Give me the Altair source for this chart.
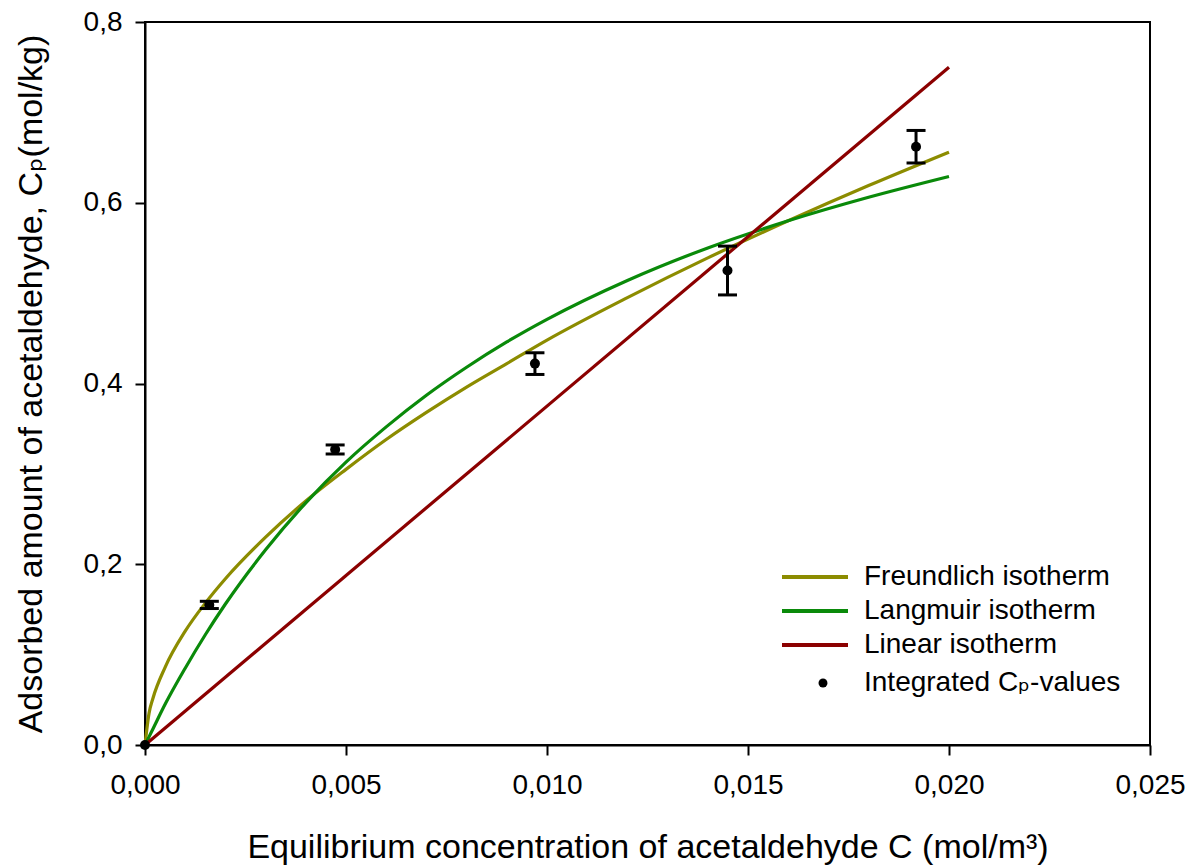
import altair as alt
import pandas as pd

FONT = "Liberation Sans, Arial, DejaVu Sans, sans-serif"

# Fitted isotherm curves: C in mol/m³, Cp in mol/kg
curve_c = [0.0, 0.0001, 0.0002, 0.0005, 0.001, 0.0015, 0.002, 0.003, 0.004, 0.005,
           0.006, 0.007, 0.008, 0.009, 0.010, 0.012, 0.014, 0.016, 0.018, 0.020]
freundlich_cp = [0.0, 0.035, 0.052, 0.086, 0.126, 0.157, 0.184, 0.230, 0.270, 0.305,
                 0.338, 0.368, 0.396, 0.422, 0.448, 0.495, 0.539, 0.580, 0.619, 0.656]
langmuir_cp = [0.0, 0.009, 0.018, 0.045, 0.085, 0.122, 0.156, 0.216, 0.268, 0.313,
               0.352, 0.387, 0.418, 0.446, 0.471, 0.514, 0.550, 0.580, 0.606, 0.629]
linear_c = [0.0, 0.020]
linear_cp = [0.0, 0.750]

# Integrated Cp values with their error
meas_c = [0.0, 0.00160, 0.00473, 0.00970, 0.01449, 0.01918]
meas_cp = [0.0, 0.155, 0.327, 0.422, 0.525, 0.662]
meas_err = [0.0, 0.004, 0.005, 0.012, 0.027, 0.018]

models = ["Freundlich isotherm", "Langmuir isotherm", "Linear isotherm"]
model_colors = ["#8c8c00", "#0a8a0a", "#8b0000"]
points_label = "Integrated Cₚ-values"

curves = pd.concat([
    pd.DataFrame({"c": curve_c, "cp": freundlich_cp, "model": models[0]}),
    pd.DataFrame({"c": curve_c, "cp": langmuir_cp, "model": models[1]}),
    pd.DataFrame({"c": linear_c, "cp": linear_cp, "model": models[2]}),
], ignore_index=True)

meas = pd.DataFrame({"c": meas_c, "cp": meas_cp, "err": meas_err, "series": points_label})

x_enc = alt.X(
    "c:Q",
    scale=alt.Scale(domain=[0, 0.025], nice=False),
    axis=alt.Axis(
        values=[0, 0.005, 0.01, 0.015, 0.02, 0.025],
        labelExpr="replace(format(datum.value, '.3f'), '.', ',')",
        labelFlush=False,
        labelPadding=16,
        titleY=112,
        titleBaseline="alphabetic",
    ),
    title="Equilibrium concentration of acetaldehyde C (mol/m³)",
)
y_enc = alt.Y(
    "cp:Q",
    scale=alt.Scale(domain=[0, 0.8], nice=False),
    axis=alt.Axis(
        values=[0, 0.2, 0.4, 0.6, 0.8],
        labelExpr="replace(format(datum.value, '.1f'), '.', ',')",
        labelFlush=False,
        labelPadding=13,
        titleX=-104,
        titleBaseline="alphabetic",
    ),
    title="Adsorbed amount of acetaldehyde, Cₚ(mol/kg)",
)

lines = alt.Chart(curves).mark_line(strokeWidth=3.2, interpolate="monotone").encode(
    x=x_enc,
    y=y_enc,
    color=alt.Color(
        "model:N",
        scale=alt.Scale(domain=models, range=model_colors),
        sort=models,
        legend=alt.Legend(
            title=None,
            orient="none",
            legendX=635,
            legendY=538,
            symbolType="stroke",
            symbolSize=4356,
            symbolStrokeWidth=4,
            labelFontSize=28,
            labelOffset=14,
            labelLimit=500,
            clipHeight=34,
            rowPadding=0,
            padding=0,
        ),
    ),
)

bars = meas.loc[meas["err"] > 0].assign(lo=lambda d: d.cp - d.err, hi=lambda d: d.cp + d.err)

stems = alt.Chart(bars).mark_rule(color="black", strokeWidth=3).encode(
    x="c:Q", y="lo:Q", y2="hi:Q"
)
caps_lo = alt.Chart(bars).mark_tick(color="black", orient="horizontal", size=19, thickness=3, opacity=1).encode(
    x="c:Q", y="lo:Q"
)
caps_hi = alt.Chart(bars).mark_tick(color="black", orient="horizontal", size=19, thickness=3, opacity=1).encode(
    x="c:Q", y="hi:Q"
)

points = alt.Chart(meas).mark_point(filled=True, color="black", size=100, opacity=1).encode(
    x="c:Q",
    y="cp:Q",
    shape=alt.Shape(
        "series:N",
        scale=alt.Scale(domain=[points_label], range=["circle"]),
        legend=alt.Legend(
            title=None,
            orient="none",
            legendX=664,
            legendY=644,
            symbolSize=80,
            symbolFillColor="black",
            symbolStrokeWidth=0,
            labelFontSize=28,
            labelOffset=27,
            labelLimit=500,
            clipHeight=34,
            padding=0,
        ),
    ),
)

chart = (
    alt.layer(lines, stems, caps_lo, caps_hi, points)
    .resolve_legend(color="independent", shape="independent")
    .properties(
        width=1005,
        height=723,
        autosize=alt.AutoSizeParams(type="none"),
        padding={"left": 145, "top": 22, "right": 44, "bottom": 120},
        background="white",
    )
    .configure(font=FONT)
    .configure_view(stroke="black", strokeWidth=2)
    .configure_axis(
        grid=False,
        domainColor="black",
        domainWidth=2,
        tickColor="black",
        tickWidth=2,
        tickSize=10,
        labelColor="black",
        labelFont=FONT,
        labelFontSize=28,
        titleColor="black",
        titleFont=FONT,
        titleFontSize=34,
        titleFontWeight="normal",
    )
    .configure_legend(labelFont=FONT, labelColor="black")
)

chart.save("out.html", embed_options={"renderer": "svg", "actions": False})
